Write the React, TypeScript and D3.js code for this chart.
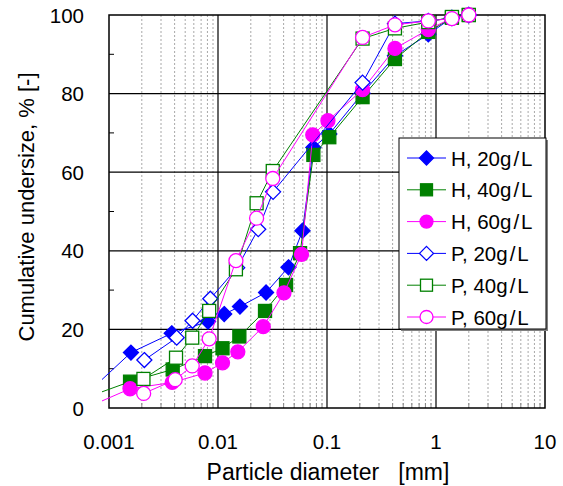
import React from "react";
import * as d3 from "d3";

// ---------- data ----------
const h20x = [0.0007, 0.00159, 0.00376, 0.0081, 0.0114, 0.0159, 0.0276, 0.0443, 0.0596, 0.075, 0.105, 0.212, 0.42, 0.85, 1.4, 2.0];
const h20y = [4.9, 14.1, 19.0, 22.0, 23.9, 25.8, 29.4, 35.8, 45.1, 66.3, 69.7, 80.1, 89.6, 95.1, 99.3, 100];
const h40x = [0.0007, 0.00156, 0.00384, 0.0076, 0.011, 0.0157, 0.027, 0.0421, 0.0566, 0.075, 0.105, 0.212, 0.42, 0.85, 1.4, 2.0];
const h40y = [3.2, 6.7, 9.8, 13.2, 15.2, 18.2, 24.7, 31.3, 39.4, 64.4, 68.9, 79.1, 88.8, 95.7, 99.3, 100];
const h60x = [0.0007, 0.00156, 0.0038, 0.0076, 0.011, 0.0152, 0.026, 0.0403, 0.0584, 0.074, 0.102, 0.212, 0.42, 0.85, 1.4, 2.0];
const h60y = [0.7, 4.9, 6.5, 8.9, 11.5, 14.3, 20.7, 29.3, 39.1, 69.5, 73.1, 81.0, 91.5, 96.3, 99.2, 100];
const p20x = [0.00211, 0.00418, 0.00584, 0.0085, 0.015, 0.0234, 0.032, 0.212, 0.42, 0.85, 1.4, 2.0];
const p20y = [12.2, 17.9, 22.2, 27.8, 35.7, 45.5, 55.0, 82.8, 97.8, 98.5, 99.2, 100];
const p40x = [0.00207, 0.00412, 0.0058, 0.0083, 0.0146, 0.0226, 0.0318, 0.212, 0.42, 0.85, 1.4, 2.0];
const p40y = [7.4, 12.8, 17.9, 24.7, 35.3, 52.1, 60.3, 94.0, 96.6, 98.2, 99.5, 100];
const p60x = [0.00208, 0.00405, 0.0058, 0.0083, 0.0146, 0.0226, 0.0318, 0.212, 0.42, 0.85, 1.4, 2.0];
const p60y = [3.7, 7.2, 10.7, 17.6, 37.5, 48.3, 58.4, 94.3, 97.5, 98.5, 99.1, 100];

const seriesNames = ["H, 20g/L", "H, 40g/L", "H, 60g/L", "P, 20g/L", "P, 40g/L", "P, 60g/L"];
const xTickValues = [0.001, 0.01, 0.1, 1, 10];
const xTickLabels = ["0.001", "0.01", "0.1", "1", "10"];
const yTickValues = [0, 20, 40, 60, 80, 100];
const xTitle = "Particle diameter   [mm]";
const yTitle = "Cumulative undersize, % [-]";

// ---------- styles ----------
const BLUE = "#0000ff";
const GREEN = "#008000";
const MAG = "#ff00ff";
const series = [
  { name: seriesNames[0], xs: h20x, ys: h20y, color: BLUE, shape: "diamond", filled: true },
  { name: seriesNames[1], xs: h40x, ys: h40y, color: GREEN, shape: "square", filled: true },
  { name: seriesNames[2], xs: h60x, ys: h60y, color: MAG, shape: "circle", filled: true },
  { name: seriesNames[3], xs: p20x, ys: p20y, color: BLUE, shape: "diamond", filled: false },
  { name: seriesNames[4], xs: p40x, ys: p40y, color: GREEN, shape: "square", filled: false },
  { name: seriesNames[5], xs: p60x, ys: p60y, color: MAG, shape: "circle", filled: false },
];

const W = 563, H = 486;
const L = 109, R = 545, T = 15, B = 408;
const FONT = "'Liberation Sans', Arial, sans-serif";

function Marker({ x, y, shape, color, filled, size = 7 }: any) {
  const fill = filled ? color : "#fff";
  const sw = 1.3;
  if (shape === "diamond") {
    const r = size + 0.5;
    const d = `M${x},${y - r}L${x + r},${y}L${x},${y + r}L${x - r},${y}Z`;
    return <path d={d} fill={fill} stroke={color} strokeWidth={sw} />;
  }
  if (shape === "square") {
    const r = size - 0.5;
    return <rect x={x - r} y={y - r} width={2 * r} height={2 * r} fill={fill} stroke={color} strokeWidth={sw} />;
  }
  return <circle cx={x} cy={y} r={size} fill={fill} stroke={color} strokeWidth={sw} />;
}

export default function App() {
  const x = d3.scaleLog().domain([0.001, 10]).range([L, R]);
  const y = d3.scaleLinear().domain([0, 100]).range([B, T]);
  const line = d3.line<[number, number]>().x((d) => x(d[0])).y((d) => y(d[1]));

  const minorX: number[] = [];
  for (let e = -3; e < 1; e++) {
    for (let k = 2; k <= 9; k++) minorX.push(k * Math.pow(10, e));
  }
  const minorY = [10, 30, 50, 70, 90];

  const legX = 399, legY = 138, legW = 147, legH = 191;
  const rowY0 = 158, rowStep = 31.8;

  return (
    <svg width={W} height={H} style={{ position: "absolute", left: 0, top: 0 }} fontFamily={FONT}>
      <defs>
        <clipPath id="clipLines">
          <rect x={102} y={0} width={W - 102} height={H} />
        </clipPath>
      </defs>
      <rect x={0} y={0} width={W} height={H} fill="#fff" />
      {minorX.map((v, i) => (
        <line key={"mx" + i} x1={x(v)} x2={x(v)} y1={T} y2={B} stroke="#a8a8a8" strokeWidth={1} strokeDasharray="2,2" />
      ))}
      {minorX.map((v, i) => (
        <line key={"mt" + i} x1={x(v)} x2={x(v)} y1={B} y2={B - 5} stroke="#888" strokeWidth={1} />
      ))}
      {xTickValues.slice(1, -1).map((v, i) => (
        <line key={"Mx" + i} x1={x(v)} x2={x(v)} y1={T} y2={B} stroke="#000" strokeWidth={1.2} />
      ))}
      {yTickValues.slice(1, -1).map((v, i) => (
        <line key={"My" + i} x1={L} x2={R} y1={y(v)} y2={y(v)} stroke="#000" strokeWidth={1.2} />
      ))}
      {minorY.map((v, i) => (
        <line key={"my" + i} x1={L} x2={L + 5} y1={y(v)} y2={y(v)} stroke="#000" strokeWidth={1} />
      ))}
      <rect x={L} y={T} width={R - L} height={B - T} fill="none" stroke="#000" strokeWidth={1.5} />

      {series.map((s, si) => {
        const pts: [number, number][] = s.xs.map((v, i) => [v, s.ys[i]]);
        return (
          <g key={"s" + si}>
            <path d={line(pts) || ""} fill="none" stroke={s.color} strokeWidth={1} clipPath="url(#clipLines)" />
            {pts
              .filter((p) => p[0] >= 0.001)
              .map((p, i) => (
                <Marker key={i} x={x(p[0])} y={y(p[1])} shape={s.shape} color={s.color} filled={s.filled} />
              ))}
          </g>
        );
      })}

      {yTickValues.map((v, i) => (
        <text key={"yl" + i} x={84} y={y(v) + 7.5} textAnchor="end" fontSize={20.5} fill="#000">
          {String(v)}
        </text>
      ))}
      {xTickValues.map((v, i) => (
        <text key={"xl" + i} x={x(v)} y={449} textAnchor="middle" fontSize={20.5} fill="#000">
          {xTickLabels[i]}
        </text>
      ))}
      <text x={328} y={480} textAnchor="middle" fontSize={23} fill="#000" style={{ whiteSpace: "pre" }}>
        {xTitle}
      </text>
      <text transform={`translate(34,207) rotate(-90)`} textAnchor="middle" fontSize={22} fill="#000">
        {yTitle}
      </text>

      <rect x={legX + 2} y={legY + 2} width={legW} height={legH} fill="#808080" />
      <rect x={legX} y={legY} width={legW} height={legH} fill="#fff" stroke="#000" strokeWidth={1} />
      {series.map((s, i) => {
        const ry = rowY0 + i * rowStep;
        return (
          <g key={"lg" + i}>
            <line x1={407} x2={446} y1={ry} y2={ry} stroke={s.color} strokeWidth={1} />
            <Marker x={426.5} y={ry} shape={s.shape} color={s.color} filled={s.filled} size={6.5} />
            <text x={451} y={ry + 7.5} fontSize={20.5} fill="#000">
              {s.name.split("/")[0]}
              <tspan dx={2}>/</tspan>
              <tspan dx={2}>{s.name.split("/")[1]}</tspan>
            </text>
          </g>
        );
      })}
    </svg>
  );
}
